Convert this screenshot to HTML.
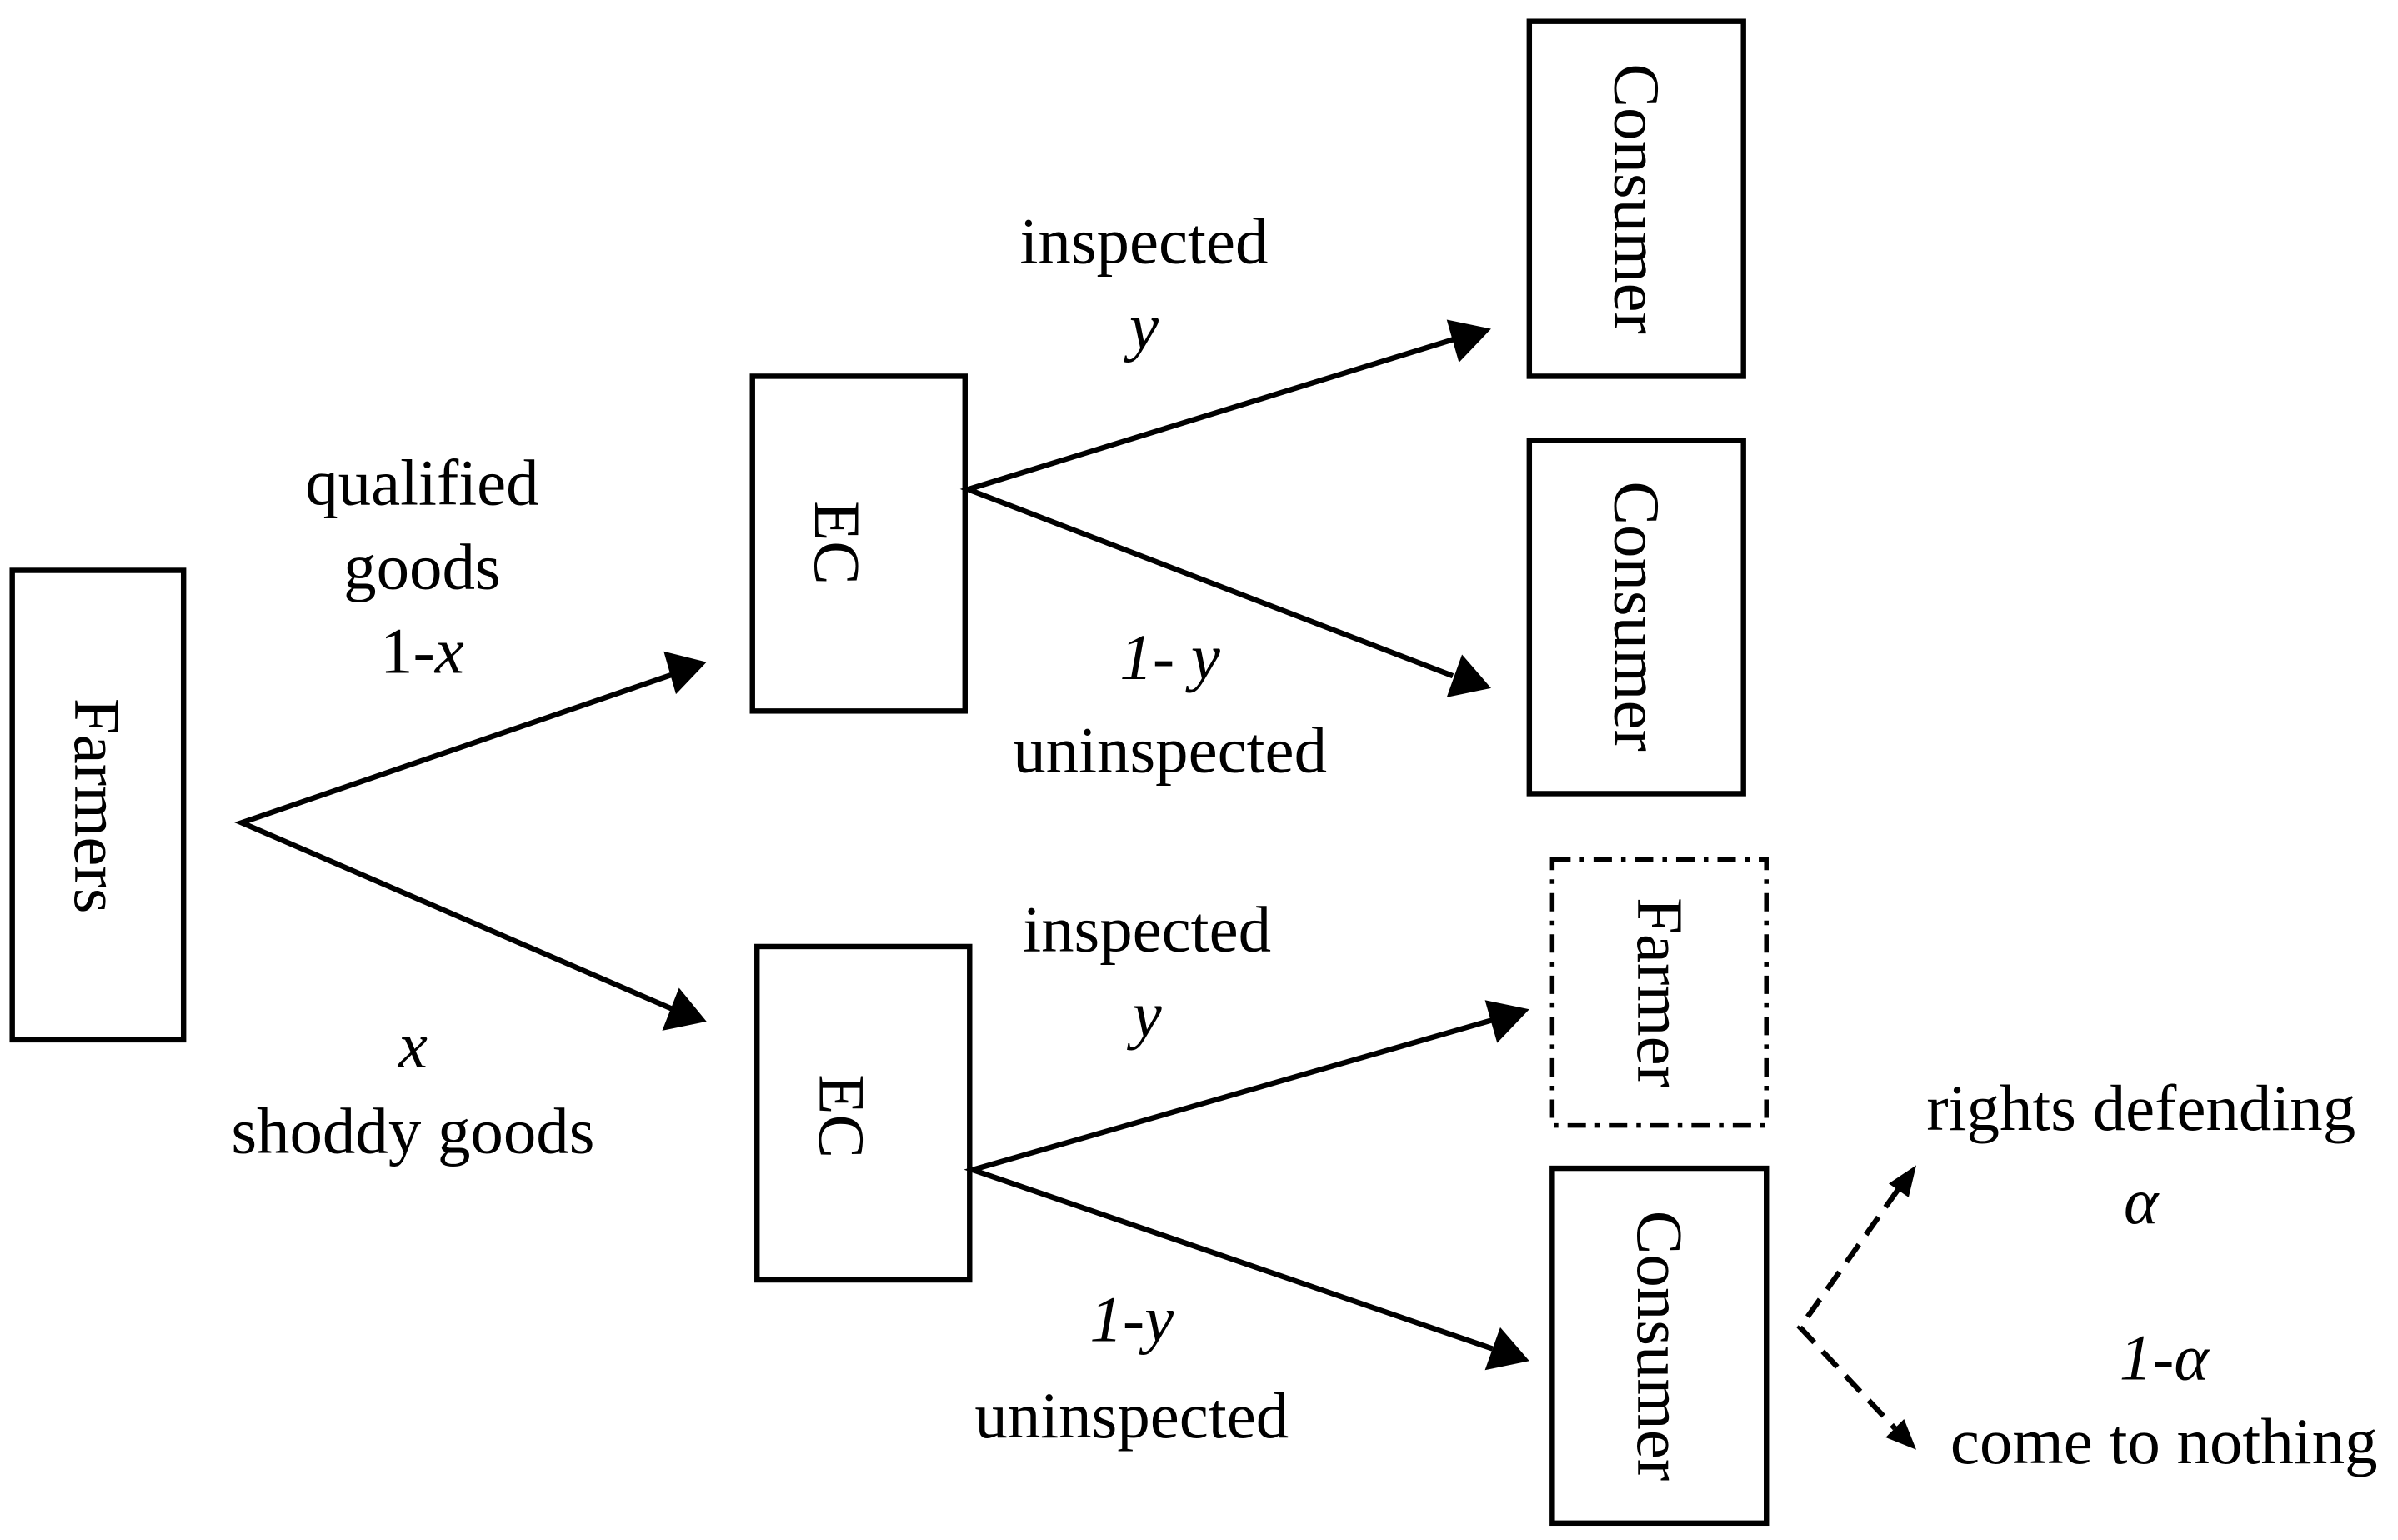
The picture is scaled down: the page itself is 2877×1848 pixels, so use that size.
<!DOCTYPE html>
<html><head><meta charset="utf-8"><style>
html,body{margin:0;padding:0;background:#fff;}
svg{display:block;}
text{font-family:"Liberation Serif",serif;font-size:43px;fill:#000;}
</style></head><body>
<svg width="2877" height="1848" viewBox="0 0 1568 1007" preserveAspectRatio="none" xmlns="http://www.w3.org/2000/svg">
<g fill="none" stroke="#000" stroke-width="3.5">
<rect x="8" y="373" width="112" height="307"/>
<rect x="492" y="246" width="139" height="219"/>
<rect x="495" y="619" width="139" height="218"/>
<rect x="1000" y="14" width="140" height="232"/>
<rect x="1000" y="288" width="140" height="231"/>
<rect x="1015" y="562" width="140" height="174" stroke-width="3" stroke-dasharray="12,6,3,6"/>
<rect x="1015" y="764" width="140" height="232"/>
<polyline points="440,441 158,538 440,660"/>
<polyline points="950,222 633,320 950,442"/>
<polyline points="976,667 636,765 976,882"/>
<polyline points="1241,778 1177,868 1239,934" stroke-dasharray="14,8"/>
</g>
<g fill="#000">
<polygon points="462,433 434,426 442,454"/>
<polygon points="462,668 444,646 433,674"/>
<polygon points="975,215 946,209 954,237"/>
<polygon points="975,450 956,428 946,456"/>
<polygon points="1000,660 971,654 979,682"/>
<polygon points="1000,890 981,868 971,896"/>
<polygon points="1253,762 1248,783 1235,774"/>
<polygon points="1253,948 1233,940 1245,928"/>
</g>
<g text-anchor="middle">
<text transform="translate(63,527) rotate(90)" dy="14">Farmers</text>
<text transform="translate(547,355) rotate(90)" dy="14">EC</text>
<text transform="translate(550,730) rotate(90)" dy="14">EC</text>
<text transform="translate(1070,130) rotate(90)" dy="14" font-size="45">Consumer</text>
<text transform="translate(1070,403) rotate(90)" dy="14" font-size="45">Consumer</text>
<text transform="translate(1085,649) rotate(90)" dy="14">Farmer</text>
<text transform="translate(1085,880) rotate(90)" dy="14" font-size="45">Consumer</text>
<text x="276" y="330">qualified</text>
<text x="276" y="385">goods</text>
<text x="276" y="440">1-<tspan font-style="italic">x</tspan></text>
<text x="270" y="698" font-style="italic">x</text>
<text x="270" y="754">shoddy goods</text>
<text x="748" y="172">inspected</text>
<text x="748" y="228" font-style="italic">y</text>
<text x="765" y="444" font-style="italic">1- y</text>
<text x="765" y="505">uninspected</text>
<text x="750" y="622">inspected</text>
<text x="750" y="678" font-style="italic">y</text>
<text x="740" y="877" font-style="italic">1-y</text>
<text x="740" y="940">uninspected</text>
<text x="1400" y="739">rights defending</text>
<text x="1400" y="800" font-style="italic">α</text>
<text x="1415" y="902" font-style="italic">1-α</text>
<text x="1415" y="957">come to nothing</text>
</g>
</svg>
</body></html>
